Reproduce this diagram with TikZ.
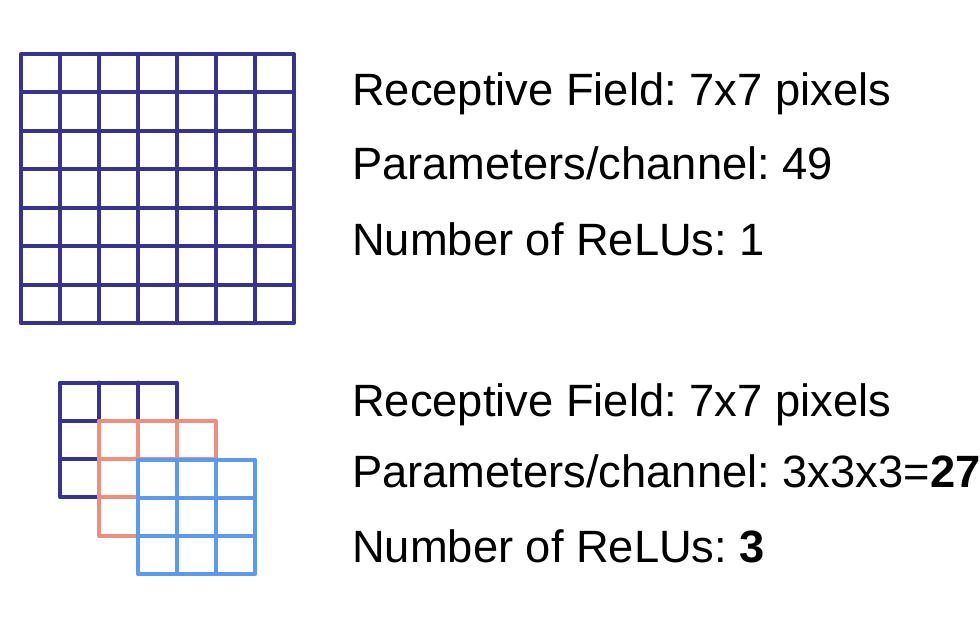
\documentclass[tikz,border=0pt]{standalone}
\usepackage{fontspec}
\setmainfont{Liberation Sans}
\frenchspacing
\definecolor{gridnavy}{RGB}{58,50,145}
\definecolor{gridsalmon}{RGB}{238,142,126}
\definecolor{gridblue}{RGB}{91,154,240}
% \cellgrid{color}{x}{y}{cells}{cell width}{cell height}
\newcommand{\cellgrid}[6]{%
  \draw[gridline, draw=#1, fill=white] (#2,#3) rectangle ++({#4*#5},{#4*#6});
  \foreach \k in {1,...,\numexpr#4-1\relax} {
    \draw[gridline, draw=#1] ({#2+\k*#5},#3) -- ++(0,{#4*#6});
    \draw[gridline, draw=#1] (#2,{#3+\k*#6}) -- ++({#4*#5},0);
  }
}
\begin{document}
\begin{tikzpicture}[x=1pt,y=-1pt,
  gridline/.style={line width=4pt, line join=round, line cap=round},
  txt/.style={anchor=base west, inner sep=0pt, font=\fontsize{45.3}{52}\selectfont}]
\useasboundingbox (0,0) rectangle (980,616);

% one 7x7 filter
\cellgrid{gridnavy}{21}{54}{7}{39}{38.45}

% three stacked 3x3 filters
\cellgrid{gridnavy}{60}{382.5}{3}{39}{38.2}
\cellgrid{gridsalmon}{99}{421}{3}{39}{38.2}
\cellgrid{gridblue}{138}{459.5}{3}{39}{38.2}

% description of the 7x7 filter
\node[txt] (rf1) at (352,105) {Receptive Field: 7x7 pixels};
\node[txt] (pc1) at (352,179.5) {Parameters/channel: 49};
\node[txt] (nr1) at (352,255) {Number of ReLUs: 1};

% description of the stacked 3x3 filters
\node[txt] (rf2) at (352,416) {Receptive Field: 7x7 pixels};
\node[txt] (pc2) at (352,487) {Parameters/channel: 3x3x3=\textbf{27}};
\node[txt] (nr2) at (352,562) {Number of ReLUs: \textbf{3}};
\end{tikzpicture}
\end{document}
